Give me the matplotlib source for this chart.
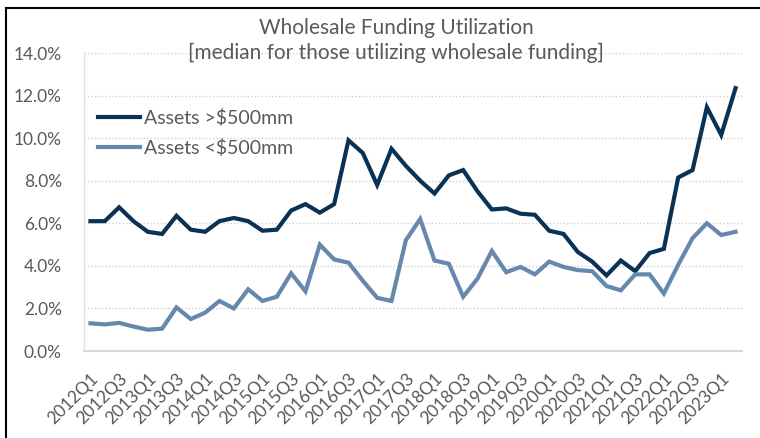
import matplotlib.pyplot as plt
from matplotlib.lines import Line2D
from matplotlib.ticker import FuncFormatter

plt.rcParams['font.family'] = ['Lato', 'DejaVu Sans']

# quarters 2012Q1 .. 2023Q2
quarters = [f"{y}Q{q}" for y in range(2012, 2024) for q in range(1, 5)][:46]

large = [6.1, 6.1, 6.75, 6.1, 5.6, 5.5, 6.35, 5.7, 5.6, 6.1,
         6.25, 6.1, 5.65, 5.7, 6.6, 6.9, 6.5, 6.9, 9.9, 9.3,
         7.8, 9.5, 8.7, 8.0, 7.4, 8.25, 8.5, 7.5, 6.65, 6.7,
         6.45, 6.4, 5.65, 5.5, 4.65, 4.2, 3.55, 4.25, 3.75, 4.6,
         4.8, 8.15, 8.5, 11.45, 10.15, 12.35]
small = [1.3, 1.25, 1.32, 1.15, 1.0, 1.05, 2.05, 1.5, 1.8, 2.35,
         2.0, 2.9, 2.35, 2.55, 3.65, 2.8, 5.0, 4.3, 4.15, 3.3,
         2.5, 2.35, 5.2, 6.2, 4.25, 4.1, 2.55, 3.4, 4.7, 3.7,
         3.95, 3.6, 4.2, 3.95, 3.8, 3.75, 3.05, 2.85, 3.6, 3.6,
         2.7, 4.05, 5.3, 6.0, 5.45, 5.6]

dark = '#0a3254'
light = '#6688ad'
gray = '#595959'

fig = plt.figure(figsize=(7.6, 4.38), dpi=100)
ax = fig.add_axes([84 / 760, 1 - 351 / 438, (742 - 84) / 760, (351 - 53) / 438])

x = list(range(len(quarters)))
ax.plot(x, large, color=dark, lw=3, label='Assets >$500mm', solid_joinstyle='miter')
ax.plot(x, small, color=light, lw=3, label='Assets <$500mm', solid_joinstyle='miter')

ax.set_xlim(-0.45, len(quarters) - 0.55)
ax.set_ylim(0, 14)
ax.set_yticks(range(0, 15, 2))
ax.yaxis.set_major_formatter(FuncFormatter(lambda v, p: f"{v:.1f}%"))
ax.set_xticks(x[::2])
ax.set_xticklabels(quarters[::2], rotation=45, ha='right', rotation_mode='anchor')
ax.tick_params(axis='x', length=0, labelsize=12.5, colors=gray, pad=14)
ax.tick_params(axis='y', length=0, labelsize=12.5, colors=gray, pad=16)

ax.grid(axis='y', color='#d0d0d0', linestyle=(0, (1, 1.5)), lw=1)
ax.set_axisbelow(True)
for s in ['top', 'right']:
    ax.spines[s].set_visible(False)
ax.spines['bottom'].set_color('#d9d9d9')
ax.spines['bottom'].set_linewidth(1.5)
ax.spines['left'].set_color('#e3e3e3')
ax.spines['left'].set_linewidth(1)

ax.legend(loc='upper left', bbox_to_anchor=(0.0, 0.857), frameon=False,
          fontsize=14, labelcolor=gray, handlelength=2.2, handletextpad=0.2,
          labelspacing=0.62, borderaxespad=0.3)

fig.text(396 / 760, 1 - 28 / 438, 'Wholesale Funding Utilization', ha='center', va='center',
         fontsize=15, color=gray)
fig.text(396 / 760, 1 - 53 / 438, '[median for those utilizing wholesale funding]', ha='center',
         va='center', fontsize=15, color=gray)

# frame lines at top and left of the picture
fig.add_artist(Line2D([6 / 760, 1], [1 - 8 / 438, 1 - 8 / 438], color='black', lw=1.5,
                      transform=fig.transFigure))
fig.add_artist(Line2D([6 / 760, 6 / 760], [0, 1 - 8 / 438], color='black', lw=1.5,
                      transform=fig.transFigure))

fig.savefig('out.png', dpi=100)
